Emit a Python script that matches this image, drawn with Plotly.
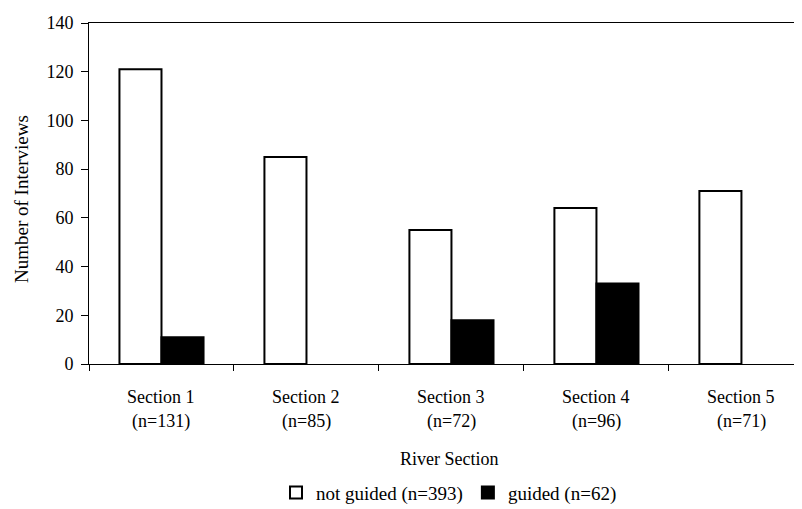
import plotly.graph_objects as go

sections = ["Section 1", "Section 2", "Section 3", "Section 4", "Section 5"]
n_labels = ["(n=131)", "(n=85)", "(n=72)", "(n=96)", "(n=71)"]
not_guided = [121, 85, 55, 64, 71]
guided = [11, 0, 18, 33, 0]
y_ticks = [0, 20, 40, 60, 80, 100, 120, 140]
series_names = ["not guided (n=393)", "guided (n=62)"]

xpos = list(range(len(sections)))
FONT = "Liberation Serif"
BLACK = "black"


def outline(vals):
    return [2 if v > 0 else 0 for v in vals]


fig = go.Figure()
fig.add_trace(go.Bar(x=xpos, y=not_guided, name=series_names[0],
                     marker=dict(color="white", line=dict(color=BLACK, width=outline(not_guided)))))
fig.add_trace(go.Bar(x=xpos, y=guided, name=series_names[1],
                     marker=dict(color=BLACK, line=dict(color=BLACK, width=outline(guided)))))

annotations = []
for i, (s, n) in enumerate(zip(sections, n_labels)):
    annotations.append(dict(x=i, y=-0.0958, xref="x", yref="paper", text=s,
                            showarrow=False, font=dict(size=18, family=FONT, color=BLACK),
                            xanchor="center", yanchor="middle"))
    annotations.append(dict(x=i, y=-0.169, xref="x", yref="paper", text=n,
                            showarrow=False, font=dict(size=18, family=FONT, color=BLACK),
                            xanchor="center", yanchor="middle"))
annotations.append(dict(x=0.5, y=-0.2775, xref="paper", yref="paper", text="River Section",
                        showarrow=False, font=dict(size=18, family=FONT, color=BLACK),
                        xanchor="center", yanchor="middle"))
annotations.append(dict(x=-0.093, y=0.484, xref="paper", yref="paper", text="Number of Interviews",
                        textangle=-90, showarrow=False,
                        font=dict(size=19, family=FONT, color=BLACK),
                        xanchor="center", yanchor="middle"))

fig.update_layout(
    width=802, height=509,
    margin=dict(l=81, r=1, t=15, b=153, autoexpand=False),
    paper_bgcolor="white", plot_bgcolor="white",
    font=dict(family=FONT, size=18, color=BLACK),
    barmode="group", bargap=0.42, bargroupgap=0,
    showlegend=True,
    legend=dict(orientation="h", x=0.5, xanchor="center", y=-0.377, yanchor="middle",
                font=dict(size=19, family=FONT, color=BLACK), itemwidth=30, tracegroupgap=0),
    annotations=annotations,
    xaxis=dict(range=[-0.5, 4.466], showgrid=False, zeroline=False, automargin=False,
               showline=True, linecolor=BLACK, linewidth=1, mirror=True,
               tickmode="array", tickvals=[-0.5, 0.5, 1.5, 2.5, 3.5, 4.5],
               ticktext=[""] * 6, ticks="outside", ticklen=6, tickcolor=BLACK,
               showticklabels=False),
    yaxis=dict(range=[0, 140], tickmode="array", tickvals=y_ticks, automargin=False,
               ticks="outside", ticklen=7, tickcolor=BLACK, ticklabelstandoff=4,
               showgrid=False, zeroline=False, showline=True, linecolor=BLACK, linewidth=1,
               tickfont=dict(size=18, family=FONT, color=BLACK)),
)

fig.write_html("out.html")
